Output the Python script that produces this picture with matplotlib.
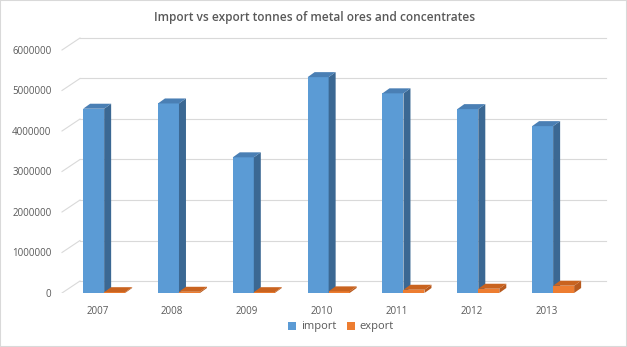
import matplotlib.pyplot as plt
from matplotlib.patches import Polygon, Patch, Rectangle

# --- data ---
years = ['2007', '2008', '2009', '2010', '2011', '2012', '2013']
imports = [4550000, 4680000, 3350000, 5330000, 4930000, 4540000, 4120000]
exports = [20000, 30000, 20000, 40000, 80000, 105000, 180000]
yticks = [0, 1000000, 2000000, 3000000, 4000000, 5000000, 6000000]

W, H = 627, 347
text_col = '#595959'
grid_col = '#d9d9d9'

plt.rcParams['font.family'] = ['Open Sans', 'DejaVu Sans']

fig = plt.figure(figsize=(W / 100, H / 100), dpi=100)
ax = fig.add_axes([57 / W, (H - 293) / H, (610 - 57) / W, (293 - 33.8) / H])
ax.set_xlim(-0.63, 6.76)
ax.set_ylim(0, 6400000)

# pixel -> data unit helpers
px_x = 553 / 7.39
px_y = 259.2 / 6400000
dx, dy = 7 / px_x, 5 / px_y          # bar depth
wx, wy = 18 / px_x, 12 / px_y        # back wall offset
bw = 21 / px_x                       # bar width

# back wall grid + diagonal ticks
x_front = -0.63 + 5 / px_x
for v in yticks:
    ax.plot([x_front, x_front + wx], [v, v + wy], color=grid_col, lw=0.8, zorder=1)
    ax.plot([x_front + wx, 6.70], [v + wy, v + wy], color=grid_col, lw=0.8, zorder=1)


def box(x0, v, face, side, top, z):
    x1 = x0 + bw
    ax.add_patch(Rectangle((x0, 0), bw, v, facecolor=face, edgecolor='none', zorder=z))
    ax.add_patch(Polygon([(x1, 0), (x1, v), (x1 + dx, v + dy), (x1 + dx, dy)],
                         closed=True, facecolor=side, edgecolor='none', zorder=z))
    ax.add_patch(Polygon([(x0, v), (x0 + dx, v + dy), (x1 + dx, v + dy), (x1, v)],
                         closed=True, facecolor=top, edgecolor='none', zorder=z))


for i, (imp, exp) in enumerate(zip(imports, exports)):
    box(i - bw, imp, '#5b9bd5', '#3b6893', '#4a7fb4', 3 + i)
    box(i, exp, '#ed7d31', '#b85a1e', '#c9631f', 3.5 + i)

ax.set_yticks(yticks)
ax.set_yticklabels([str(v) for v in yticks])
ax.set_xticks([i - 0.09 for i in range(len(years))])
ax.set_xticklabels(years)
ax.tick_params(axis='both', length=0, labelsize=7, colors=text_col)
ax.tick_params(axis='y', pad=4)
ax.tick_params(axis='x', pad=9)
for s in ax.spines.values():
    s.set_visible(False)

fig.text(0.502, 1 - 17 / H, 'Import vs export tonnes of metal ores and concentrates',
         ha='center', va='center', fontsize=8.6, fontweight='semibold', color=text_col)

handles = [Patch(facecolor='#5b9bd5', label='import'),
           Patch(facecolor='#ed7d31', label='export')]
fig.legend(handles=handles, loc='center', bbox_to_anchor=(341 / W, 1 - 327 / H), ncol=2,
           frameon=False, fontsize=8, handlelength=0.7, handleheight=0.7,
           handletextpad=0.4, columnspacing=1.0, labelcolor=text_col)

fig.patches.append(Rectangle((0, 0), 1, 1, transform=fig.transFigure, fill=False,
                             edgecolor=grid_col, lw=1.5))

plt.savefig('out.png', dpi=100)
